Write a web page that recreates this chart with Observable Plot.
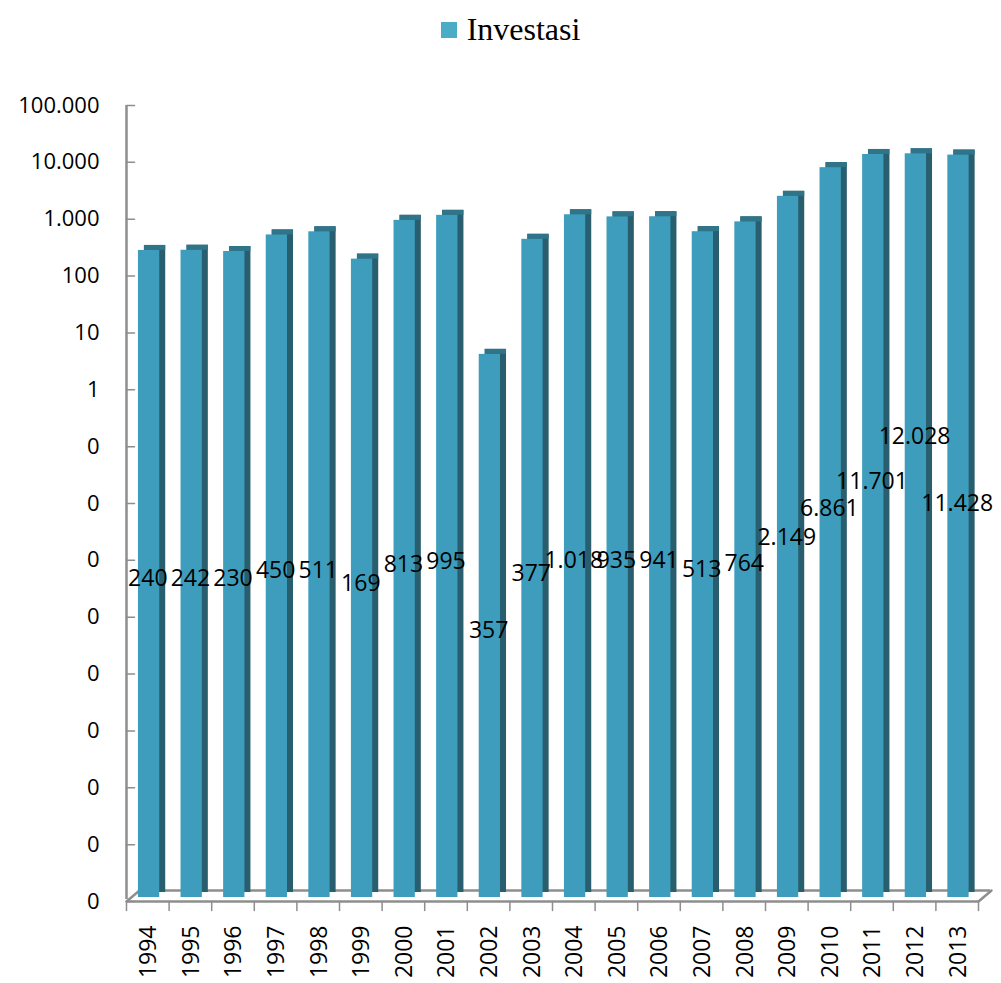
<!DOCTYPE html>
<html>
<head>
<meta charset="utf-8">
<script src="https://cdn.jsdelivr.net/npm/d3@7"></script>
<script src="https://cdn.jsdelivr.net/npm/@observablehq/plot@0.6"></script>
<style>
  body { margin: 0; background: #fff; }
  #legend { height: 58px; display: flex; align-items: center; justify-content: center; padding-left: 20px; box-sizing: border-box;
            font-family: "Liberation Serif", "Times New Roman", serif; font-size: 32px; color: #000; }
  #legend .sw { width: 16px; height: 16px; background: #4bacc6; margin-right: 10px; margin-top: 2px; }
</style>
</head>
<body>
<div id="legend"><span class="sw"></span><span>Investasi</span></div>
<div id="chart"></div>
<script>
const years = [1994,1995,1996,1997,1998,1999,2000,2001,2002,2003,2004,2005,2006,2007,2008,2009,2010,2011,2012,2013];
const investasi = [240,242,230,450,511,169,813,995,3.57,377,1018,935,941,513,764,2149,6861,11701,12028,11428];
const valueLabels = ["240","242","230","450","511","169","813","995","357","377","1.018","935","941","513","764","2.149","6.861","11.701","12.028","11.428"];
// vertical level (log10 of value-axis units) at which each data label sits
const labelLevel = [-3.32,-3.32,-3.32,-3.18,-3.18,-3.41,-3.07,-3.02,-4.23,-3.23,-3.00,-3.00,-3.00,-3.16,-3.06,-2.60,-2.09,-1.61,-0.82,-2.00];
const yTicks = [1e5,1e4,1e3,1e2,1e1,1,1e-1,1e-2,1e-3,1e-4,1e-5,1e-6,1e-7,1e-8,1e-9];
const yTickLabels = ["100.000","10.000","1.000","100","10","1","0","0","0","0","0","0","0","0","0"];

const rows = years.map((y, i) => ({year: y, value: investasi[i], label: valueLabels[i], level: Math.pow(10, labelLevel[i])}));
const base = 1e-9;
const xStart = years[0] - 0.5, xEnd = years[years.length - 1] + 0.5;
const boundaries = d3.range(xStart, xEnd + 0.01, 1);
const lineShape = {draw(ctx, l) { ctx.moveTo(0, 0); ctx.lineTo(0, -l); }};
const gray = "#8e8e8e";

const chart = Plot.plot({
  width: 1001,
  height: 925,
  marginTop: 47,
  marginBottom: 82,
  marginLeft: 126,
  marginRight: 23,
  style: {fontFamily: "'Open Sans', sans-serif", background: "#fff", color: "#000"},
  x: {type: "linear", domain: [xStart, xEnd], axis: null},
  y: {type: "log", domain: [base, 1e5]},
  marks: [
    // floor (back edge and diagonals)
    Plot.ruleY([base], {x1: xStart, x2: xEnd, dx: 12, dy: -11, stroke: gray, strokeWidth: 2.5}),
    Plot.vector([xStart, xEnd], {x: d => d, y: base, length: 17, rotate: 50, shape: lineShape, anchor: "start", stroke: gray, strokeWidth: 2.5}),
    // bar side faces
    Plot.rect(rows, {x1: d => d.year - 0.22, x2: d => d.year + 0.28, y1: base, y2: "value", dx: 6, dy: -9, fill: "#285e6d"}),
    // bar top faces
    Plot.rect(rows, {x1: d => d.year - 0.22, x2: d => d.year + 0.28, y1: "value", y2: "value", insetBottom: -5, dx: 6, dy: -9, fill: "#2f7489"}),
    // bar front faces
    Plot.rect(rows, {x1: d => d.year - 0.22, x2: d => d.year + 0.28, y1: base, y2: "value", dy: -4, fill: "#3e9dbc"}),
    // floor front edge
    Plot.ruleY([base], {x1: xStart, x2: xEnd, stroke: gray, strokeWidth: 2.5}),
    // value axis line and inward ticks
    Plot.ruleX([xStart], {y1: base, y2: 1e5, insetTop: -2, stroke: gray, strokeWidth: 2.5}),
    Plot.vector(yTicks, {x: xStart, y: d => d, length: 8, rotate: 90, shape: lineShape, anchor: "start", stroke: gray, strokeWidth: 1.5}),
    Plot.axisY({ticks: yTicks, tickFormat: (d, i) => yTickLabels[yTicks.indexOf(d)], tickSize: 0, tickPadding: 27, fontSize: 22, label: null}),
    // category ticks under the floor
    Plot.vector(boundaries, {x: d => d, y: base, length: 9, rotate: 180, shape: lineShape, anchor: "start", stroke: gray, strokeWidth: 1.5}),
    // year labels
    Plot.text(years, {x: d => d, y: base, text: d => String(d), rotate: -90, textAnchor: "end", dy: 24, dx: 1, fontSize: 23, fill: "#000"}),
    // data labels
    Plot.text(rows, {x: "year", y: "level", text: "label", fontSize: 23, fill: "#000"})
  ]
});
document.getElementById("chart").appendChild(chart);
</script>
</body>
</html>
